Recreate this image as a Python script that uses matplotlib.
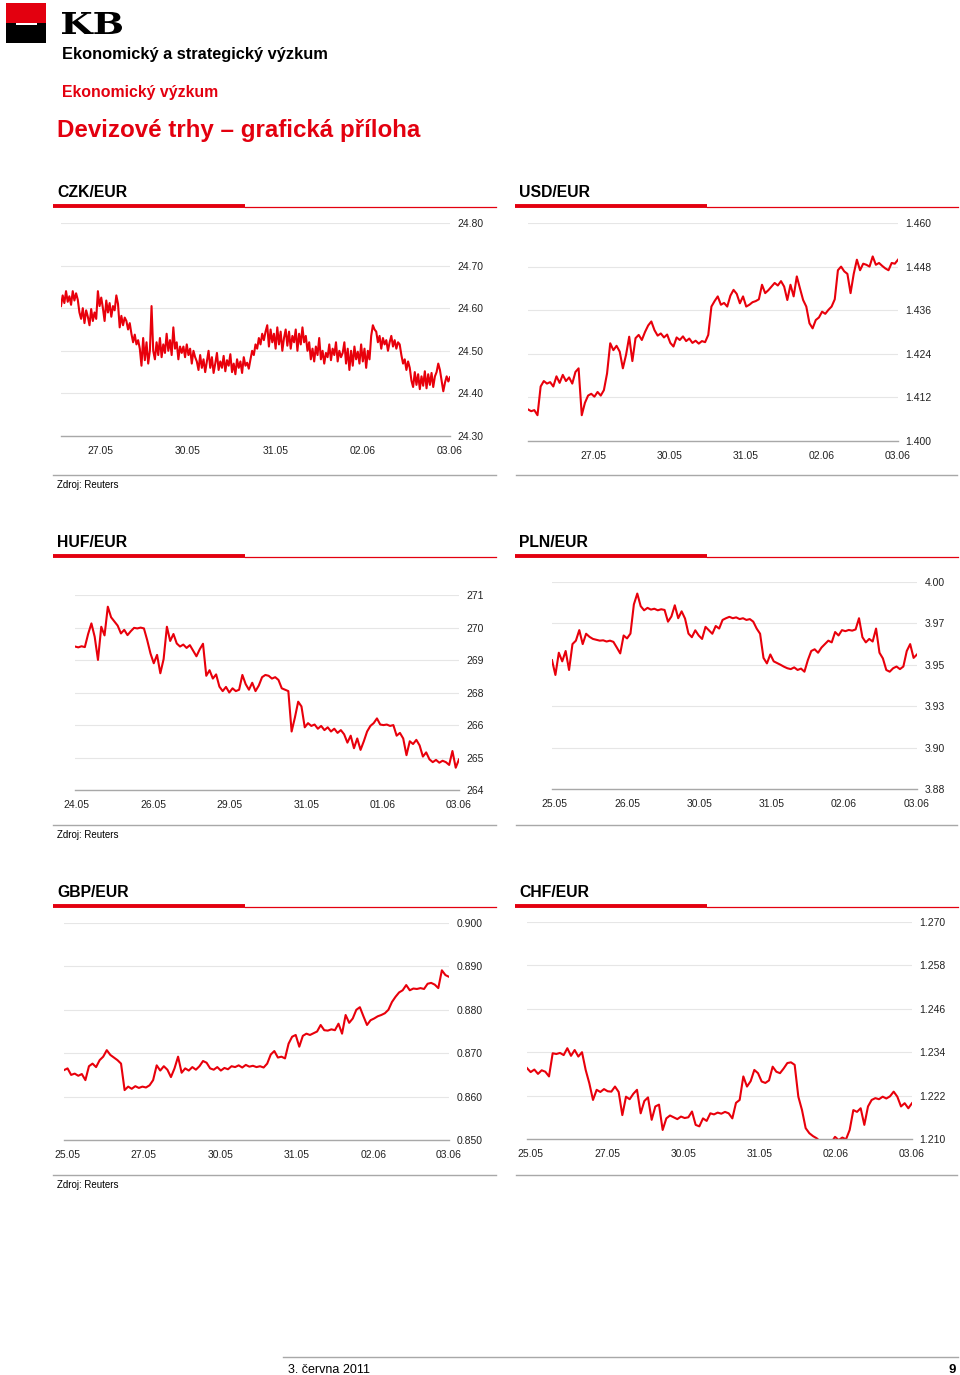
import matplotlib.pyplot as plt
import numpy as np
from matplotlib.patches import Rectangle, PathPatch
from matplotlib.textpath import TextPath
from matplotlib.font_manager import FontProperties
from matplotlib.transforms import Affine2D

plt.rcParams['font.family'] = ['Liberation Sans', 'DejaVu Sans']

RED = '#e3000f'
LINE_RED = '#e8000b'

# ---- data ----
CZK_VALUES = [24.605, 24.630, 24.612, 24.640, 24.615, 24.628, 24.608, 24.640, 24.618, 24.635, 24.620,
              24.590, 24.575, 24.600, 24.565, 24.595, 24.580, 24.560, 24.598, 24.570, 24.590, 24.575,
              24.640, 24.605, 24.625,
              24.600, 24.570, 24.618, 24.590, 24.612, 24.580, 24.605, 24.595, 24.630, 24.610,
              24.555, 24.582, 24.560, 24.578, 24.570, 24.550, 24.565,
              24.540, 24.520, 24.538, 24.515, 24.525,
              24.505, 24.465, 24.530, 24.478, 24.520, 24.470, 24.500,
              24.605, 24.500,
              24.480, 24.520, 24.490, 24.530, 24.485, 24.515, 24.495, 24.540, 24.500, 24.525,
              24.490, 24.555, 24.505, 24.520, 24.480, 24.510, 24.495,
              24.510, 24.485, 24.515, 24.490, 24.505, 24.470, 24.500, 24.485,
              24.475, 24.455, 24.490, 24.460, 24.480, 24.450, 24.475, 24.500, 24.460, 24.485,
              24.448, 24.470, 24.495, 24.455, 24.475, 24.460, 24.488, 24.452, 24.478, 24.465,
              24.492, 24.450, 24.470, 24.445, 24.480, 24.460, 24.475, 24.448, 24.485, 24.465,
              24.472, 24.458,
              24.480, 24.500, 24.490, 24.515, 24.505, 24.530, 24.515, 24.540, 24.525, 24.545,
              24.560, 24.510, 24.550, 24.520, 24.540, 24.505, 24.555, 24.515, 24.545, 24.500,
              24.530, 24.550, 24.512, 24.545, 24.505, 24.535, 24.520, 24.550, 24.500, 24.540,
              24.515, 24.555, 24.520, 24.535,
              24.500, 24.520, 24.480, 24.505, 24.475, 24.510, 24.490, 24.530, 24.480, 24.500,
              24.470, 24.495, 24.485, 24.515, 24.478, 24.505, 24.490, 24.520, 24.475, 24.500,
              24.485, 24.495,
              24.520, 24.470, 24.505, 24.455, 24.500, 24.465, 24.510, 24.480, 24.498, 24.470,
              24.515, 24.475, 24.505, 24.460, 24.500, 24.480,
              24.535, 24.560, 24.550,
              24.545, 24.520, 24.535, 24.505, 24.530, 24.515, 24.525, 24.500, 24.520, 24.535,
              24.510, 24.525, 24.505, 24.520, 24.515,
              24.490, 24.470, 24.480, 24.455, 24.475, 24.460,
              24.430, 24.415, 24.450, 24.420, 24.445, 24.410, 24.440, 24.418, 24.452, 24.412,
              24.445, 24.420, 24.448, 24.415, 24.440, 24.450,
              24.470, 24.455, 24.430, 24.405,
              24.425, 24.440, 24.428, 24.438]
CZK_YTICKS = ['24.30', '24.40', '24.50', '24.60', '24.70', '24.80']
CZK_XLABELS = ['27.05', '30.05', '31.05', '02.06', '03.06']

USD_VALUES = [1.4087, 1.4082, 1.4085, 1.4071, 1.4150, 1.4165, 1.4158, 1.4162, 1.4150,
              1.4178, 1.4160, 1.4182, 1.4165, 1.4175, 1.4158, 1.4190, 1.4200, 1.4071,
              1.4105, 1.4125, 1.4130, 1.4122, 1.4135, 1.4125, 1.4140, 1.4186, 1.4269,
              1.4250, 1.4262, 1.4246, 1.4200, 1.4237, 1.4287, 1.4220, 1.4283, 1.4292,
              1.4278, 1.4300, 1.4318, 1.4329, 1.4305, 1.4290, 1.4296, 1.4285, 1.4293,
              1.4270, 1.4260, 1.4285, 1.4278, 1.4288, 1.4275, 1.4282, 1.4270, 1.4276,
              1.4268, 1.4275, 1.4272, 1.4292, 1.4370, 1.4385, 1.4398, 1.4375, 1.4380,
              1.4370, 1.4400, 1.4416, 1.4405, 1.4379, 1.4398, 1.4370, 1.4375, 1.4382,
              1.4385, 1.4390, 1.4430, 1.4407, 1.4415, 1.4425, 1.4435, 1.4428, 1.4440,
              1.4425, 1.4388, 1.4430, 1.4398, 1.4453, 1.4420, 1.4388, 1.4370, 1.4324,
              1.4310, 1.4333, 1.4340, 1.4356, 1.4350, 1.4361, 1.4370, 1.4390, 1.4470,
              1.4480, 1.4467, 1.4460, 1.4407, 1.4460, 1.4499, 1.4470, 1.4488, 1.4485,
              1.4480, 1.4508, 1.4485, 1.4490, 1.4482, 1.4475, 1.4470, 1.4490, 1.4488,
              1.4499]
USD_YTICKS = ['1.400', '1.412', '1.424', '1.436', '1.448', '1.460']
USD_XLABELS = ['27.05', '30.05', '31.05', '02.06', '03.06']

HUF_VALUES = [269.15, 269.12, 269.16, 269.13,
              269.60, 269.98, 269.50, 268.67,
              269.86, 269.55, 270.58, 270.20, 270.05, 269.90,
              269.62, 269.75, 269.56, 269.70,
              269.82, 269.80, 269.83, 269.80,
              269.38,
              268.90, 268.55, 268.85, 268.19, 268.70,
              269.86, 269.35, 269.60,
              269.26, 269.15, 269.22, 269.10, 269.20,
              269.00, 268.80, 269.05, 269.25,
              268.10, 268.30, 268.00, 268.15,
              267.71, 267.55, 267.70, 267.50, 267.65, 267.55, 267.60,
              268.13,
              267.80, 267.60, 267.85, 267.55, 267.75,
              268.05, 268.13, 268.10, 268.00, 268.05, 267.95,
              267.65, 267.60, 267.55,
              266.10, 266.60, 267.17, 267.00,
              266.25, 266.40, 266.30,
              266.35, 266.20, 266.30, 266.15, 266.25, 266.10, 266.20, 266.05, 266.15, 266.00,
              265.70, 265.95, 265.50, 265.85, 265.44, 265.75,
              266.10, 266.30, 266.40, 266.57,
              266.35, 266.33, 266.35, 266.30, 266.33,
              265.95, 266.05, 265.85, 265.25,
              265.75, 265.65, 265.80, 265.60,
              265.20, 265.35,
              265.10, 265.00, 265.08, 264.98, 265.05, 265.00,
              264.90, 265.40, 264.80, 265.10]
HUF_YTICKS = ['264', '265', '266', '268', '269', '270', '271']
HUF_XLABELS = ['24.05', '26.05', '29.05', '31.05', '01.06', '03.06']

PLN_VALUES = [3.9547, 3.9461, 3.9590, 3.9540, 3.9600, 3.9490,
              3.9640, 3.9660, 3.9721, 3.9640, 3.9700,
              3.9682, 3.9670, 3.9665, 3.9660, 3.9662, 3.9655, 3.9660, 3.9653,
              3.9620, 3.9586, 3.9690, 3.9673, 3.9701,
              3.9870, 3.9933,
              3.9860, 3.9836, 3.9850, 3.9840, 3.9845, 3.9836, 3.9842, 3.9838,
              3.9770, 3.9800, 3.9865, 3.9790, 3.9830, 3.9788,
              3.9701, 3.9680, 3.9720, 3.9690, 3.9670,
              3.9740, 3.9720, 3.9700, 3.9745, 3.9730,
              3.9780, 3.9790, 3.9798, 3.9790, 3.9795, 3.9785, 3.9790, 3.9780, 3.9785, 3.9770,
              3.9730, 3.9700, 3.9560, 3.9528, 3.9580, 3.9540,
              3.9530, 3.9520, 3.9509,
              3.9500, 3.9495, 3.9505, 3.9490, 3.9498, 3.9480,
              3.9547, 3.9600, 3.9610, 3.9590, 3.9620,
              3.9640, 3.9660, 3.9650, 3.9710, 3.9690,
              3.9721, 3.9715, 3.9722, 3.9718, 3.9725,
              3.9790, 3.9680, 3.9650, 3.9670, 3.9655, 3.9730,
              3.9590, 3.9557, 3.9490, 3.9480,
              3.9500, 3.9510, 3.9495, 3.9510,
              3.9600, 3.9640, 3.9560, 3.9580]
PLN_YTICKS = ['3.88', '3.90', '3.93', '3.95', '3.97', '4.00']
PLN_XLABELS = ['25.05', '26.05', '30.05', '31.05', '02.06', '03.06']

GBP_VALUES = [0.8661, 0.8665, 0.8650, 0.8653, 0.8648, 0.8652, 0.8638,
              0.8670, 0.8676, 0.8668, 0.8684, 0.8692, 0.8707,
              0.8696, 0.8690, 0.8684, 0.8676, 0.8615,
              0.8623, 0.8618, 0.8624, 0.8620, 0.8623, 0.8621, 0.8626,
              0.8638, 0.8672, 0.8660, 0.8670, 0.8662, 0.8645, 0.8665, 0.8692,
              0.8655, 0.8665, 0.8660, 0.8668, 0.8662, 0.8670, 0.8682, 0.8678,
              0.8665, 0.8662, 0.8668, 0.8660, 0.8666, 0.8663,
              0.8670, 0.8668, 0.8672, 0.8667, 0.8673, 0.8669, 0.8671, 0.8668, 0.8670, 0.8667,
              0.8676, 0.8697, 0.8705, 0.8690, 0.8692, 0.8688,
              0.8722, 0.8738, 0.8742, 0.8715,
              0.8740, 0.8745, 0.8742, 0.8746, 0.8750, 0.8765,
              0.8753, 0.8752, 0.8755, 0.8753, 0.8768, 0.8745, 0.8788,
              0.8770, 0.8780, 0.8800, 0.8806, 0.8785, 0.8765,
              0.8776, 0.8780, 0.8785, 0.8788, 0.8792,
              0.8800, 0.8818, 0.8830, 0.8840, 0.8845, 0.8857, 0.8845,
              0.8849, 0.8848, 0.8850, 0.8848,
              0.8860, 0.8862, 0.8858, 0.8850, 0.8891, 0.8880, 0.8876]
GBP_YTICKS = ['0.850', '0.860', '0.870', '0.880', '0.890', '0.900']
GBP_XLABELS = ['25.05', '27.05', '30.05', '31.05', '02.06', '03.06']

CHF_VALUES = [1.2296, 1.2285, 1.2292, 1.2280, 1.2290, 1.2286, 1.2273,
              1.2337, 1.2335, 1.2338, 1.2332, 1.2351, 1.2330,
              1.2346, 1.2328, 1.2340, 1.2291, 1.2254, 1.2208,
              1.2236, 1.2230, 1.2238, 1.2232, 1.2231, 1.2245, 1.2230,
              1.2166, 1.2217, 1.2210, 1.2225, 1.2236, 1.2171,
              1.2205, 1.2215, 1.2153, 1.2190, 1.2195, 1.2125,
              1.2157, 1.2165, 1.2160, 1.2155, 1.2162, 1.2158, 1.2160,
              1.2176, 1.2139, 1.2135, 1.2157, 1.2150,
              1.2171, 1.2168, 1.2173, 1.2170, 1.2175, 1.2171, 1.2157,
              1.2200, 1.2208, 1.2273, 1.2245, 1.2260, 1.2291, 1.2282,
              1.2259, 1.2255, 1.2262, 1.2300, 1.2286, 1.2282, 1.2295,
              1.2310, 1.2312, 1.2305, 1.2217, 1.2180, 1.2130,
              1.2116, 1.2108, 1.2102, 1.2093, 1.2079, 1.2085, 1.2090,
              1.2106, 1.2097, 1.2104, 1.2099, 1.2125,
              1.2180, 1.2175, 1.2185, 1.2139, 1.2190, 1.2208,
              1.2213, 1.2210, 1.2217, 1.2212, 1.2218, 1.2231,
              1.2217, 1.2190, 1.2199, 1.2185, 1.2199]
CHF_YTICKS = ['1.210', '1.222', '1.234', '1.246', '1.258', '1.270']
CHF_XLABELS = ['25.05', '27.05', '30.05', '31.05', '02.06', '03.06']

W, H = 960, 1375
fig = plt.figure(figsize=(W / 100, H / 100), dpi=100)

# overlay in pixel coordinates for the page furniture
page = fig.add_axes([0, 0, 1, 1], zorder=0)
page.set_xlim(0, W)
page.set_ylim(H, 0)
page.axis('off')

# logo
page.add_patch(Rectangle((6, 3), 40, 20, color=RED, lw=0))
page.add_patch(Rectangle((6, 23), 40, 20, color='black', lw=0))
page.add_patch(Rectangle((16, 22.5), 21, 2.5, color='white', lw=0))
kb = TextPath((0, 0), 'KB', size=1, prop=FontProperties(family='DejaVu Serif', weight='bold'))
ext = kb.get_extents()
sx, sy = 60 / ext.width, 22 / ext.height
kb_tr = Affine2D().translate(-ext.x0, -ext.y0).scale(sx, -sy).translate(62, 34) + page.transData
page.add_patch(PathPatch(kb, transform=kb_tr, color='black', lw=0))

page.text(62, 59, 'Ekonomický a strategický výzkum', fontsize=11.8, fontweight='bold', va='baseline')
page.text(62, 97, 'Ekonomický výzkum', fontsize=11.4, fontweight='bold', color=RED, va='baseline')
page.text(57, 136.5, 'Devizové trhy – grafická příloha', fontsize=17.4, fontweight='bold',
          color=RED, va='baseline')


def header(x, base, title):
    page.text(x + 4, base, title, fontsize=11.3, fontweight='bold', va='baseline')
    page.plot([x, x + 192], [base + 8.5, base + 8.5], color=RED, lw=2.8, solid_capstyle='butt')
    page.plot([x + 192, x + 443], [base + 9.5, base + 9.5], color=RED, lw=0.9)


header(53, 197, 'CZK/EUR')
header(515, 197, 'USD/EUR')
header(53, 547, 'HUF/EUR')
header(515, 547, 'PLN/EUR')
header(53, 897, 'GBP/EUR')
header(515, 897, 'CHF/EUR')

for yline in (475, 825, 1175):
    page.plot([53, 496], [yline, yline], color='#a8a8a8', lw=1.0)
    page.plot([516, 957], [yline, yline], color='#a8a8a8', lw=1.0)
    page.text(57, yline + 13, 'Zdroj: Reuters', fontsize=7, va='baseline')

# footer
page.plot([283, 958], [1357, 1357], color='#a8a8a8', lw=1.0)
page.text(288, 1373, '3. června 2011', fontsize=9, va='baseline')
page.text(956, 1373, '9', fontsize=9.5, fontweight='bold', ha='right', va='baseline')


def panel(x0, x1, ytop, ybot, values, ytick_labels, xlabels, first_frac, step_frac):
    ax = fig.add_axes([x0 / W, 1 - ybot / H, (x1 - x0) / W, (ybot - ytop) / H], zorder=2)
    ax.set_facecolor('none')
    n = len(values)
    xs = np.arange(n)
    ax.plot(xs, values, color=LINE_RED, lw=1.5)
    ax.set_xlim(0, n - 1)
    lo, hi = float(ytick_labels[0]), float(ytick_labels[-1])
    ax.set_ylim(lo, hi)
    ax.set_yticks(np.linspace(lo, hi, len(ytick_labels)), ytick_labels)
    ax.yaxis.tick_right()
    ax.tick_params(axis='y', length=0, pad=5.5, labelsize=7.5, labelcolor='#222222')
    # x labels, evenly spaced, ticks under every other label from the right end
    fr = [first_frac + i * step_frac for i in range(len(xlabels))]
    fr[-1] = 1.0
    pos = [f * (n - 1) for f in fr]
    ax.set_xticks(pos, xlabels)
    ax.set_xticks(pos[::-1][::2], minor=True)
    ax.tick_params(axis='x', which='major', length=0, pad=7.5, labelsize=7.5, labelcolor='#222222')
    ax.tick_params(axis='x', which='minor', length=3.5, width=0.8, color='#a0a0a0', direction='out')
    ax.yaxis.grid(True, color='#e6e6e6', lw=0.8)
    ax.set_axisbelow(True)
    for s in ('top', 'left', 'right'):
        ax.spines[s].set_visible(False)
    ax.spines['bottom'].set_color('#a8a8a8')
    ax.spines['bottom'].set_linewidth(1.0)
    return ax


panel(61, 450, 223, 436, CZK_VALUES, CZK_YTICKS, CZK_XLABELS, 0.102, 0.2243)
panel(528, 898, 223, 441, USD_VALUES, USD_YTICKS, USD_XLABELS, 0.178, 0.2054)
panel(75, 459, 595, 790, HUF_VALUES, HUF_YTICKS, HUF_XLABELS, 0.005, 0.199)
panel(552, 917, 582, 789, PLN_VALUES, PLN_YTICKS, PLN_XLABELS, 0.008, 0.198)
panel(64, 449, 923, 1140, GBP_VALUES, GBP_YTICKS, GBP_XLABELS, 0.008, 0.199)
panel(527, 912, 922, 1139, CHF_VALUES, CHF_YTICKS, CHF_XLABELS, 0.010, 0.198)

fig.savefig('out.png', dpi=100)
